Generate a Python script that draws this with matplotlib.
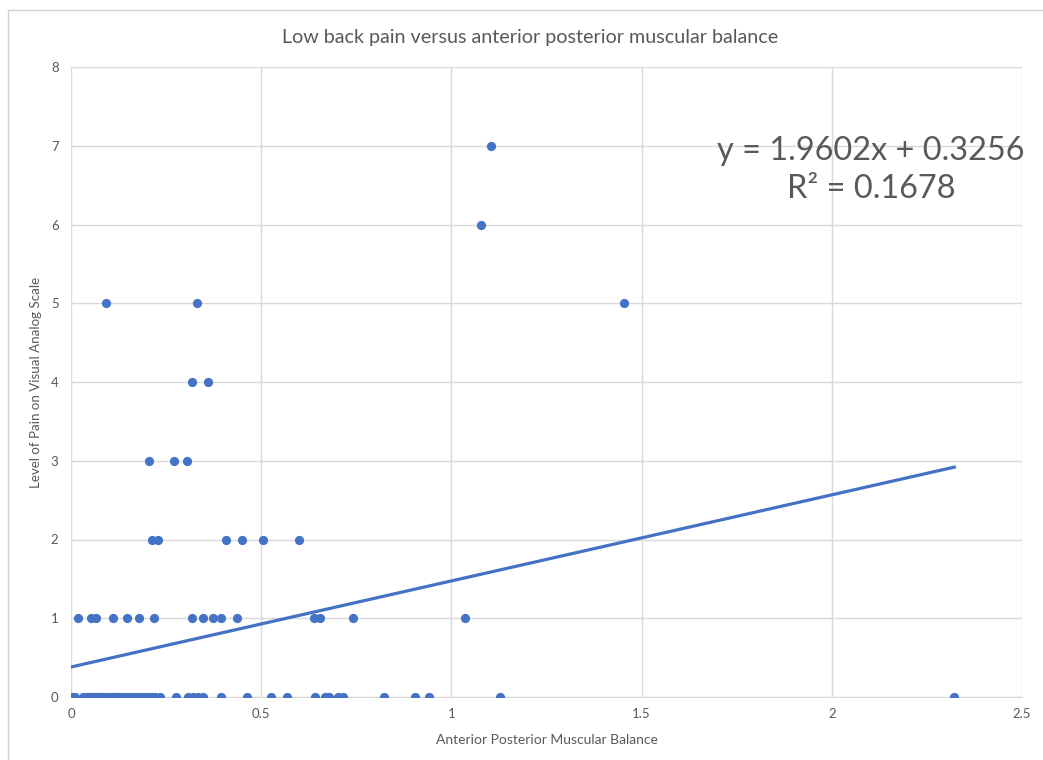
import matplotlib
matplotlib.use('Agg')
import matplotlib.pyplot as plt
import matplotlib.patches as patches
import numpy as np

plt.rcParams['font.family'] = ['Lato', 'DejaVu Sans']

# pain level 0
x_pain0 = [0.003, 0.010, 0.031, 0.036, 0.042, 0.047, 0.052, 0.058, 0.063, 0.068,
           0.075, 0.081, 0.088, 0.094, 0.100, 0.107, 0.113, 0.120, 0.126, 0.133,
           0.140, 0.147, 0.153, 0.160, 0.167, 0.174, 0.182, 0.190, 0.198, 0.206,
           0.214, 0.222, 0.233, 0.277, 0.307, 0.320, 0.333, 0.346, 0.394, 0.463,
           0.527, 0.567, 0.641, 0.668, 0.678, 0.702, 0.715, 0.822, 0.903, 0.940,
           1.128, 2.322]
x_pain1 = [0.018, 0.052, 0.065, 0.110, 0.147, 0.178, 0.217, 0.319, 0.346, 0.374,
           0.395, 0.437, 0.639, 0.654, 0.741, 1.037]
x_pain2 = [0.212, 0.230, 0.408, 0.450, 0.505, 0.599]
x_pain3 = [0.204, 0.270, 0.306]
x_pain4 = [0.319, 0.361]
x_pain5 = [0.092, 0.330, 1.455]
x_pain6 = [1.079]
x_pain7 = [1.105]

# trendline as drawn in the picture
trend_slope = 1.093
trend_intercept = 0.381
eq_text = "y = 1.9602x + 0.3256\nR\u00b2 = 0.1678"

groups = [x_pain0, x_pain1, x_pain2, x_pain3, x_pain4, x_pain5, x_pain6, x_pain7]
xs = []
ys = []
for level, vals in enumerate(groups):
    xs += vals
    ys += [level] * len(vals)
xs = np.array(xs)
ys = np.array(ys)

blue = '#4472C4'
grey_txt = '#595959'
grid_c = '#d9d9d9'

fig = plt.figure(figsize=(10.43, 7.6), dpi=100)
ax = fig.add_axes([71 / 1043, 63 / 760, 951 / 1043, 630 / 760])

ax.scatter(xs, ys, s=44, color=blue, zorder=3, linewidths=0)

tx = np.array([xs.min(), xs.max()])
ax.plot(tx, trend_slope * tx + trend_intercept, color=blue, lw=2.3, zorder=2)

ax.set_xlim(0, 2.5)
ax.set_ylim(0, 8)
ax.set_xticks([0, 0.5, 1, 1.5, 2, 2.5])
ax.set_xticklabels(['0', '0.5', '1', '1.5', '2', '2.5'])
ax.set_yticks(range(0, 9))
ax.grid(True, color=grid_c, lw=1)
ax.set_axisbelow(True)
for s in ['top', 'right', 'left']:
    ax.spines[s].set_visible(False)
ax.spines['bottom'].set_color(grid_c)
ax.tick_params(length=0, labelsize=9.5, colors=grey_txt, pad=9)
ax.tick_params(axis='x', pad=8)

ax.set_xlabel("Anterior Posterior Muscular Balance", fontsize=10, color=grey_txt, labelpad=10)
ax.set_ylabel("Level of Pain on Visual Analog Scale", fontsize=9.6, color=grey_txt, labelpad=6)
fig.text(530 / 1043, 1 - 38 / 760, "Low back pain versus anterior posterior muscular balance",
         ha='center', va='center', fontsize=14.2, color=grey_txt)

ax.text(871, 760 - 170, eq_text, transform=None, ha='center', va='center',
        fontsize=23.4, color=grey_txt, linespacing=1.3)

# chart border
fig.patches.append(patches.Rectangle((8 / 1043, -0.1), 1.2, 1 - 10 / 760 + 0.1,
                                     transform=fig.transFigure, fill=False,
                                     edgecolor='#d0d0d0', lw=1))

fig.savefig('out.png', dpi=100)
